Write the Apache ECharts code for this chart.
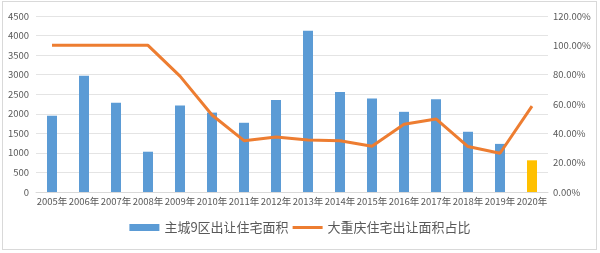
<!DOCTYPE html>
<html><head><meta charset="utf-8">
<script src="https://cdn.jsdelivr.net/npm/echarts@6/dist/echarts.min.js"></script>
<style>html,body{margin:0;padding:0;background:#fff}#c{width:600px;height:253px;}
#frame{position:absolute;left:2px;top:1px;width:595px;height:249px;border:1px solid #d9d9d9;pointer-events:none;box-sizing:border-box}</style>
</head><body><div id="c"></div><div id="frame"></div>
<script>
const categories = ['2005年','2006年','2007年','2008年','2009年','2010年','2011年','2012年','2013年','2014年','2015年','2016年','2017年','2018年','2019年','2020年'];
const areaValues = [1950,2970,2280,1030,2210,2030,1770,2350,4120,2560,2390,2050,2370,1540,1230,810];
const shareValues = [100,100,100,100,79,52.5,35,37.5,35.5,35,31.2,46.2,49.8,31,26.4,58.6];
const leftTicks = {min:0,max:4500,interval:500};
const rightTicks = {min:0,max:120,interval:20};
const barName = '主城9区出让住宅面积';
const lineName = '大重庆住宅出让面积占比';

const chart = echarts.init(document.getElementById('c'));
const txt = '#595959';
const font = '"Noto Sans CJK SC", "Noto Sans", sans-serif';
chart.setOption({
  animation:false,
  textStyle:{fontFamily:font},
  grid:{left:36,right:52,top:16,bottom:61},
  legend:{
    bottom:14,left:'center',itemWidth:30,itemHeight:7,itemGap:4,symbolKeepAspect:true,
    textStyle:{color:txt,fontSize:13,fontFamily:font},
    data:[{name:barName,icon:'rect'},{name:lineName,icon:'path://M0,0H30V3H0Z',itemStyle:{color:'#ED7D31'}}]
  },
  xAxis:{type:'category',data:categories,
    axisLine:{lineStyle:{color:'#d9d9d9'}},axisTick:{show:false},
    axisLabel:{color:txt,fontSize:9.5,margin:5,interval:0}},
  yAxis:[
    {type:'value',min:leftTicks.min,max:leftTicks.max,interval:leftTicks.interval,
     axisLabel:{color:txt,fontSize:9.5,margin:7,formatter:v=>String(v)},
     splitLine:{lineStyle:{color:'#e4e4e4'}},axisLine:{show:false},axisTick:{show:false}},
    {type:'value',min:rightTicks.min,max:rightTicks.max,interval:rightTicks.interval,
     axisLabel:{color:txt,fontSize:9.5,margin:5,formatter:v=>v.toFixed(2)+'%'},
     splitLine:{show:false},axisLine:{show:false},axisTick:{show:false}}
  ],
  series:[
    {name:barName,type:'bar',barWidth:10,itemStyle:{color:'#5B9BD5'},
     data:areaValues.map((v,i)=> i===areaValues.length-1 ? {value:v,itemStyle:{color:'#FFC000'}} : v)},
    {name:lineName,type:'line',yAxisIndex:1,symbol:'none',lineStyle:{color:'#ED7D31',width:3},
     itemStyle:{color:'#ED7D31'},data:shareValues}
  ]
});
</script></body></html>
